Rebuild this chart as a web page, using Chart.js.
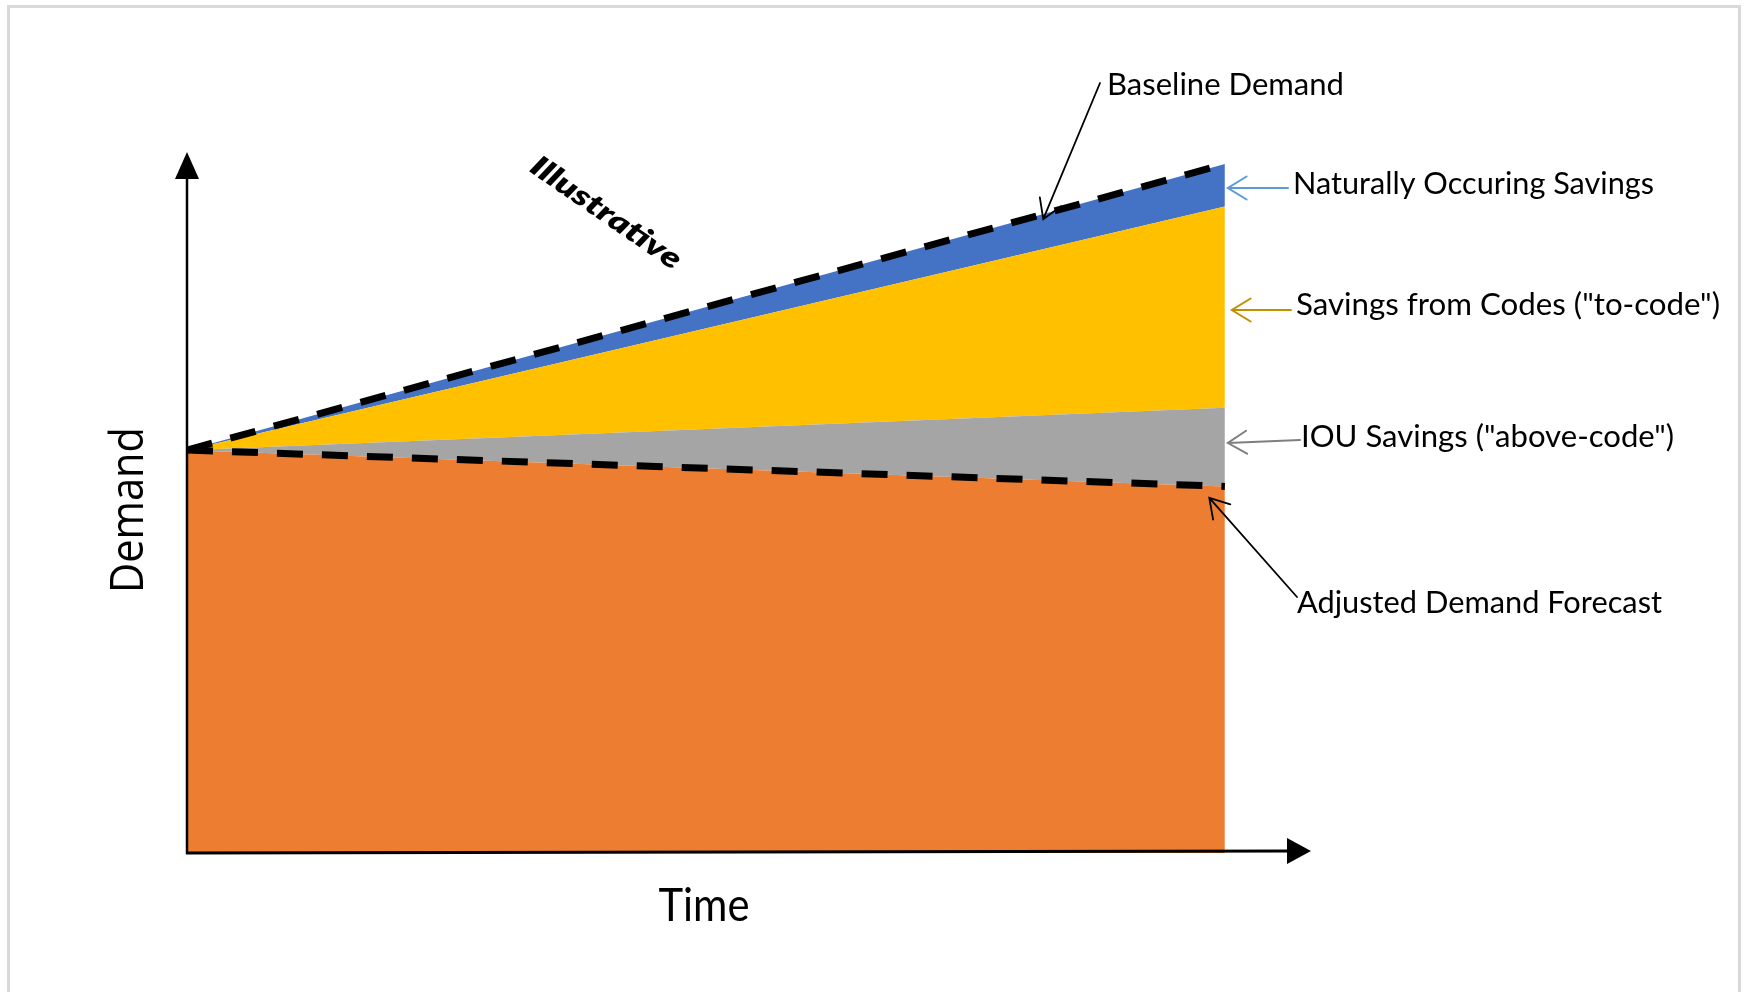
<!DOCTYPE html>
<html>
<head>
<meta charset="utf-8">
<title>Demand forecast components</title>
<script src="https://cdn.jsdelivr.net/npm/chart.js@4.4.1/dist/chart.umd.min.js"></script>
<style>
  html, body { margin: 0; padding: 0; background: #ffffff; }
  #wrap { width: 1746px; height: 992px; position: relative; }
  canvas { display: block; }
</style>
</head>
<body>
<div id="wrap"><canvas id="chart" width="1746" height="992"></canvas></div>
<script>
// Time runs from the start to the end of the forecast horizon
const timeSteps = [0, 100];

// Demand levels (relative units) at the start and end of the horizon
const baselineDemand       = [100, 171];   // top of the stack (dashed)
const afterNaturalSavings  = [100, 160.5]; // baseline minus naturally occurring savings
const afterCodeSavings     = [100, 110.5]; // minus savings from codes
const adjustedForecast     = [100, 91];    // minus IOU savings (dashed)

const seriesNames = [
  'Adjusted Demand Forecast',
  'IOU Savings ("above-code")',
  'Savings from Codes ("to-code")',
  'Naturally Occuring Savings',
  'Baseline Demand'
];

const axisTitles = { x: 'Time', y: 'Demand' };
const stampText = 'Illustrative';

const COLORS = {
  adjusted: '#ED7D31',
  iou: '#A5A5A5',
  codes: '#FFC000',
  natural: '#4472C4',
  dash: '#000000'
};

const toPoints = (vals) => timeSteps.map((t, i) => ({ x: t, y: vals[i] }));

// Text squeezed horizontally to a given width
function fitText(ctx, text, x, y, width, font, align) {
  ctx.font = font;
  const w = ctx.measureText(text).width;
  const s = width / w;
  ctx.save();
  ctx.translate(x, y);
  ctx.scale(s, 1);
  ctx.textAlign = align || 'left';
  ctx.fillText(text, 0, 0);
  ctx.restore();
}

function openArrow(ctx, x1, y1, x2, y2, color, lw) {
  const ang = Math.atan2(y2 - y1, x2 - x1);
  const arm = 22, spread = 0.55;
  ctx.save();
  ctx.strokeStyle = color;
  ctx.lineWidth = lw;
  ctx.lineCap = 'round';
  ctx.beginPath();
  ctx.moveTo(x1, y1);
  ctx.lineTo(x2, y2);
  ctx.moveTo(x2 - arm * Math.cos(ang - spread), y2 - arm * Math.sin(ang - spread));
  ctx.lineTo(x2, y2);
  ctx.lineTo(x2 - arm * Math.cos(ang + spread), y2 - arm * Math.sin(ang + spread));
  ctx.stroke();
  ctx.restore();
}

// Page frame and white background
const framePlugin = {
  id: 'frame',
  beforeDraw(chart) {
    const ctx = chart.ctx;
    ctx.save();
    ctx.fillStyle = '#ffffff';
    ctx.fillRect(0, 0, chart.width, chart.height);
    ctx.strokeStyle = '#D9D9D9';
    ctx.lineWidth = 3;
    ctx.beginPath();
    ctx.moveTo(8.5, chart.height + 2);
    ctx.lineTo(8.5, 6.5);
    ctx.lineTo(1739.5, 6.5);
    ctx.lineTo(1739.5, chart.height + 2);
    ctx.stroke();
    ctx.restore();
  }
};

// Arrowed axes, axis titles, callouts
const annotatePlugin = {
  id: 'annotate',
  afterDatasetsDraw(chart) {
    const ctx = chart.ctx;
    const { left, right, top, bottom } = chart.chartArea;
    const xs = chart.scales.x, ys = chart.scales.y;

    ctx.save();
    // y axis with filled arrowhead
    ctx.strokeStyle = '#000';
    ctx.fillStyle = '#000';
    ctx.lineWidth = 2.5;
    ctx.beginPath();
    ctx.moveTo(left, bottom + 1);
    ctx.lineTo(left, top + 24);
    ctx.stroke();
    ctx.beginPath();
    ctx.moveTo(left, top);
    ctx.lineTo(left - 12, top + 27);
    ctx.lineTo(left + 12, top + 27);
    ctx.closePath();
    ctx.fill();

    // x axis with filled arrowhead
    ctx.lineWidth = 3;
    ctx.beginPath();
    ctx.moveTo(left - 1, bottom);
    ctx.lineTo(right - 20, bottom - 2);
    ctx.stroke();
    ctx.beginPath();
    ctx.moveTo(right, bottom - 2);
    ctx.lineTo(right - 24, bottom - 15);
    ctx.lineTo(right - 24, bottom + 11);
    ctx.closePath();
    ctx.fill();

    // axis titles
    ctx.fillStyle = '#000';
    ctx.textBaseline = 'alphabetic';
    fitText(ctx, axisTitles.x, 704, 921, 91, '47px Lato', 'center');

    ctx.save();
    ctx.translate(143, 510);
    ctx.rotate(-Math.PI / 2);
    fitText(ctx, axisTitles.y, 0, 0, 166, '45px "Open Sans"', 'center');
    ctx.restore();

    // stamp
    ctx.save();
    ctx.translate(606, 213);
    ctx.rotate(34.5 * Math.PI / 180);
    ctx.textBaseline = 'middle';
    fitText(ctx, stampText, 0, 0, 176, 'italic 800 29px Lato', 'center');
    ctx.restore();

    // callouts
    const endX = xs.getPixelForValue(timeSteps[timeSteps.length - 1]);
    const f = '31px Lato';
    fitText(ctx, seriesNames[4], 1107, 95, 237, f);
    fitText(ctx, seriesNames[3], 1293, 194, 361, f);
    fitText(ctx, seriesNames[2], 1296, 315, 424, f);
    fitText(ctx, seriesNames[1], 1301, 447, 373, f);
    fitText(ctx, seriesNames[0], 1297, 613, 365, f);

    // pointer to the baseline line, at 82.5% of the horizon
    const tB = 82.5;
    const yB = ys.getPixelForValue(baselineDemand[0] + (baselineDemand[1] - baselineDemand[0]) * tB / 100);
    openArrow(ctx, 1100, 83, xs.getPixelForValue(tB), yB + 5, '#000', 1.8);
    openArrow(ctx, 1288, 188, endX + 3, 188, '#5B9BD5', 2);
    openArrow(ctx, 1291, 310, endX + 7, 310, '#BF9000', 2);
    openArrow(ctx, 1300, 440, endX + 3, 443, '#7F7F7F', 2);
    const tA = 98.5;
    const yA = ys.getPixelForValue(adjustedForecast[0] + (adjustedForecast[1] - adjustedForecast[0]) * tA / 100);
    openArrow(ctx, 1297, 597, xs.getPixelForValue(tA), yA + 12, '#000', 1.8);

    ctx.restore();
  }
};

// dashed outlines sit above the filled bands (lower order is drawn later)
const dashStyle = {
  borderColor: COLORS.dash,
  borderWidth: 7,
  borderDash: [26, 19],
  borderCapStyle: 'butt',
  fill: false,
  pointRadius: 0,
  clip: false,
  order: 0
};

const areaStyle = {
  borderWidth: 0,
  pointRadius: 0,
  tension: 0,
  order: 1
};

Promise.all([
  document.fonts.load('31px Lato'),
  document.fonts.load('italic 800 29px Lato'),
  document.fonts.load('45px "Open Sans"')
]).catch(() => {}).then(() => {
  new Chart(document.getElementById('chart'), {
    type: 'line',
    data: {
      datasets: [
        { ...areaStyle, label: seriesNames[0], data: toPoints(adjustedForecast), backgroundColor: COLORS.adjusted, fill: 'origin' },
        { ...areaStyle, label: seriesNames[1], data: toPoints(afterCodeSavings), backgroundColor: COLORS.iou, fill: '-1' },
        { ...areaStyle, label: seriesNames[2], data: toPoints(afterNaturalSavings), backgroundColor: COLORS.codes, fill: '-1' },
        { ...areaStyle, label: seriesNames[3], data: toPoints(baselineDemand), backgroundColor: COLORS.natural, fill: '-1' },
        { ...dashStyle, label: seriesNames[4], data: toPoints(baselineDemand) },
        { ...dashStyle, label: seriesNames[0] + ' line', data: toPoints(adjustedForecast) }
      ]
    },
    options: {
      responsive: false,
      devicePixelRatio: 1,
      animation: false,
      layout: { padding: { left: 187, right: 435, top: 152, bottom: 139 } },
      scales: {
        x: { type: 'linear', min: 0, max: 108.3, display: false },
        y: { type: 'linear', min: 0, max: 174, display: false }
      },
      plugins: {
        legend: { display: false },
        tooltip: { enabled: false }
      }
    },
    plugins: [framePlugin, annotatePlugin]
  });
});
</script>
</body>
</html>
